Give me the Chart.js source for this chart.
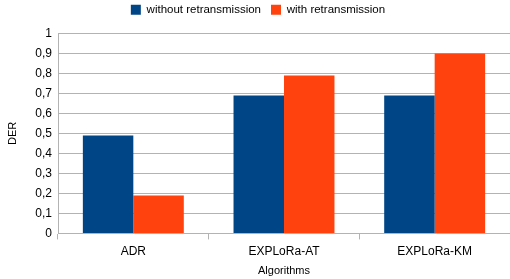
<!DOCTYPE html>
<html>
<head>
<meta charset="utf-8">
<script src="https://cdn.jsdelivr.net/npm/chart.js@4/dist/chart.umd.min.js"></script>
<style>
  html, body { margin: 0; padding: 0; background: #fff; }
  #wrap { width: 510px; height: 279px; }
</style>
</head>
<body>
<div id="wrap"><canvas id="chart"></canvas></div>
<script>
const categories = ['ADR', 'EXPLoRa-AT', 'EXPLoRa-KM'];
const withoutRetx = [0.49, 0.69, 0.69];
const withRetx = [0.19, 0.79, 0.9];
const yTicks = [0, 0.1, 0.2, 0.3, 0.4, 0.5, 0.6, 0.7, 0.8, 0.9, 1];

Chart.defaults.font.family = '"Liberation Sans", Arial, sans-serif';
Chart.defaults.color = '#333';

// push the plot down a bit below the legend
const legendGap = {
  id: 'legendGap',
  beforeInit(chart) {
    const fit = chart.legend.fit;
    chart.legend.fit = function () {
      fit.call(this);
      this.height += 8;
    };
  }
};

const ctx = document.getElementById('chart').getContext('2d');
new Chart(ctx, {
  type: 'bar',
  data: {
    labels: categories,
    datasets: [
      {
        label: 'without retransmission',
        data: withoutRetx,
        backgroundColor: '#004586',
        categoryPercentage: 0.67,
        barPercentage: 1
      },
      {
        label: 'with retransmission',
        data: withRetx,
        backgroundColor: '#ff420e',
        categoryPercentage: 0.67,
        barPercentage: 1
      }
    ]
  },
  options: {
    responsive: true,
    maintainAspectRatio: false,
    animation: false,
    layout: { padding: { top: -6, right: 0, bottom: 1, left: 6 } },
    plugins: {
      tooltip: { enabled: false },
      legend: {
        position: 'top',
        labels: {
          boxWidth: 10,
          boxHeight: 10,
          padding: 10,
          color: '#000',
          font: { size: 11.5 }
        }
      }
    },
    scales: {
      x: {
        grid: {
          offset: true,
          drawOnChartArea: false,
          color: '#b3b3b3',
          tickLength: 6
        },
        border: { color: '#b3b3b3' },
        ticks: { color: '#000', font: { size: 12 }, padding: 5 },
        title: { display: true, text: 'Algorithms', color: '#000', font: { size: 11 }, padding: { top: 1, bottom: 0 } }
      },
      y: {
        min: 0,
        max: 1,
        afterBuildTicks(axis) {
          axis.ticks = yTicks.map(v => ({ value: v }));
        },
        afterFit(axis) { axis.width = 52; },
        grid: { color: '#b3b3b3', tickLength: 0 },
        border: { color: '#b3b3b3' },
        ticks: {
          color: '#000',
          font: { size: 12 },
          padding: 6,
          callback: v => String(Math.round(v * 10) / 10).replace('.', ',')
        },
        title: { display: true, text: 'DER', color: '#000', font: { size: 11 }, padding: 0 }
      }
    }
  },
  plugins: [legendGap]
});
</script>
</body>
</html>
